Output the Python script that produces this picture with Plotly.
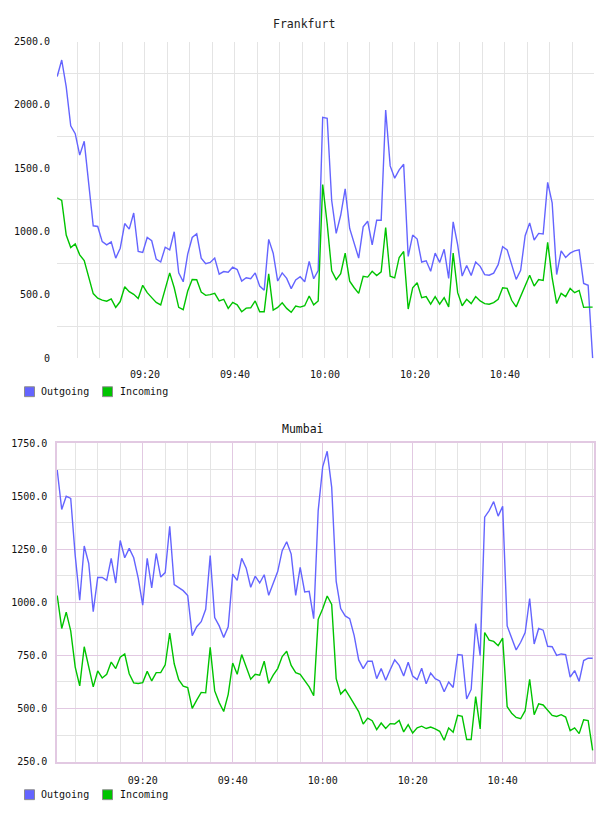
import plotly.graph_objects as go
import pandas as pd

# ---------------- data ----------------
fra_start = "2024-01-01 09:00:30"
mum_start = "2024-01-01 09:01:00"

fra_outgoing = [2224, 2354, 2141, 1834, 1772, 1603, 1712, 1375, 1045, 1040,
                920, 894, 918, 790, 868, 1063, 1019, 1146, 842, 834,
                953, 927, 782, 759, 876, 855, 998, 673, 603, 821,
                953, 982, 790, 746, 756, 790, 663, 684, 679, 718,
                700, 609, 635, 627, 673, 569, 536, 938, 829, 609,
                673, 630, 549, 617, 643, 603, 764, 627, 692, 1902,
                1894, 1245, 985, 1128, 1336, 1024, 907, 790, 1037, 1081,
                894, 1089, 1089, 1959, 1518, 1421, 1486, 1531, 803, 972,
                940, 759, 769, 686, 829, 756, 860, 630, 1076, 894,
                648, 731, 653, 759, 725, 660, 655, 671, 738, 881,
                855, 738, 622, 694, 967, 1068, 933, 985, 980, 1388,
                1227, 660, 847, 795, 829, 847, 855, 590, 575, 0]

fra_incoming = [1266, 1245, 972, 873, 902, 816, 770, 648, 510, 473,
                458, 450, 468, 401, 447, 564, 525, 504, 471, 575,
                517, 478, 440, 421, 551, 673, 556, 401, 383, 530,
                621, 619, 522, 496, 502, 512, 452, 465, 393, 440,
                421, 367, 395, 398, 452, 367, 367, 666, 380, 401,
                437, 393, 362, 411, 403, 414, 491, 421, 452, 1370,
                1060, 690, 620, 667, 829, 608, 556, 512, 647, 640,
                686, 653, 681, 1032, 647, 634, 795, 842, 388, 556,
                595, 478, 486, 426, 486, 426, 478, 405, 829, 517,
                414, 465, 431, 486, 452, 431, 426, 439, 465, 556,
                551, 457, 405, 491, 582, 655, 569, 621, 613, 914,
                634, 431, 512, 486, 551, 517, 535, 401, 403, 403]

mum_outgoing = [1623, 1437, 1499, 1489, 1220, 1010, 1265, 1184, 956, 1117,
                1117, 1103, 1207, 1091, 1291, 1210, 1254, 1210, 1114, 987,
                1207, 1068, 1230, 1119, 1140, 1358, 1083, 1071, 1055, 1032,
                843, 885, 909, 967, 1220, 928, 889, 835, 885, 1133,
                1103, 1207, 1161, 1071, 1123, 1091, 1130, 1033, 1091, 1145,
                1243, 1285, 1227, 1033, 1165, 1049, 1052, 923, 1432, 1638,
                1711, 1541, 1099, 971, 936, 923, 843, 729, 688, 723,
                723, 641, 688, 633, 683, 729, 703, 653, 718, 653,
                636, 690, 617, 667, 641, 630, 579, 625, 599, 754,
                752, 545, 590, 900, 749, 1401, 1432, 1474, 1406, 1452,
                889, 835, 776, 812, 858, 1018, 804, 877, 869, 793,
                791, 750, 757, 754, 648, 679, 628, 726, 737, 737]

mum_incoming = [1032, 877, 954, 866, 695, 607, 791, 703, 602, 677,
                644, 661, 719, 688, 742, 757, 664, 621, 618, 622,
                675, 630, 669, 669, 706, 855, 711, 636, 605, 599,
                501, 540, 576, 574, 788, 583, 528, 486, 567, 714,
                661, 754, 695, 638, 661, 657, 723, 618, 657, 688,
                745, 770, 703, 669, 661, 630, 602, 560, 920, 970,
                1030, 990, 641, 568, 590, 556, 522, 486, 427, 455,
                443, 401, 432, 406, 429, 427, 444, 390, 424, 385,
                409, 417, 406, 413, 404, 393, 351, 409, 389, 468,
                463, 354, 354, 556, 404, 858, 822, 816, 796, 832,
                509, 478, 458, 452, 490, 638, 471, 522, 517, 490,
                468, 463, 471, 460, 396, 409, 382, 447, 443, 303]

series_names = ["Outgoing", "Incoming"]
time_ticks = ["2024-01-01 09:20", "2024-01-01 09:40", "2024-01-01 10:00",
              "2024-01-01 10:20", "2024-01-01 10:40"]
time_ticktext = ["09:20", "09:40", "10:00", "10:20", "10:40"]
fra_yticks = [0, 500, 1000, 1500, 2000, 2500]
fra_yticktext = ["0", "500.0", "1000.0", "1500.0", "2000.0", "2500.0"]
fra_ygrid = [250, 750, 1250, 1750, 2250]
mum_yticks = [250, 500, 750, 1000, 1250, 1500, 1750]
mum_yticktext = ["250.0", "500.0", "750.0", "1000.0", "1250.0", "1500.0", "1750.0"]

# ---------------- figure ----------------
W, H = 608, 816
BLUE = "#6464ff"
GREEN = "#00c400"
MONO = "DejaVu Sans Mono"


def fx(p):
    return p / W


def fy(p):
    return 1 - p / H


t_fra = pd.date_range(fra_start, periods=len(fra_outgoing), freq="min")
t_mum = pd.date_range(mum_start, periods=len(mum_outgoing), freq="min")

fig = go.Figure()

fig.add_trace(go.Scatter(x=t_fra, y=fra_outgoing, mode="lines", name=series_names[0],
                         line=dict(color=BLUE, width=1.4), xaxis="x", yaxis="y", showlegend=False))
fig.add_trace(go.Scatter(x=t_fra, y=fra_incoming, mode="lines", name=series_names[1],
                         line=dict(color=GREEN, width=1.4), xaxis="x", yaxis="y", showlegend=False))
fig.add_trace(go.Scatter(x=t_mum, y=mum_outgoing, mode="lines", name=series_names[0],
                         line=dict(color=BLUE, width=1.4), xaxis="x2", yaxis="y2", showlegend=False))
fig.add_trace(go.Scatter(x=t_mum, y=mum_incoming, mode="lines", name=series_names[1],
                         line=dict(color=GREEN, width=1.4), xaxis="x2", yaxis="y2", showlegend=False))

tickfont = dict(family=MONO, size=10, color="#111111")
xdom = [fx(57), fx(594)]
GREY = "#e4e4e4"
PINK = "#e2c9e2"
MIN5 = 5 * 60 * 1000

# legends drawn below each panel: swatch + label
shapes = []
annotations = []
for cy in (392, 800.5):
    for name, col, sx, tx in zip(series_names, (BLUE, GREEN), (24.5, 102.5), (38.5, 117.5)):
        shapes.append(dict(type="rect", xref="paper", yref="paper",
                           x0=fx(sx), x1=fx(sx + 10), y0=fy(cy + 5), y1=fy(cy - 5),
                           fillcolor=col, line=dict(color="#8c8c8c", width=1)))
        annotations.append(dict(text=name, x=fx(tx), y=fy(cy), xref="paper", yref="paper",
                                showarrow=False, xanchor="left", yanchor="middle",
                                font=dict(family=MONO, size=10, color="#111111")))

annotations += [
    dict(text="Frankfurt", x=fx(304), y=fy(19), xref="paper", yref="paper",
         showarrow=False, xanchor="center", yanchor="middle",
         font=dict(family=MONO, size=11.5, color="#222222")),
    dict(text="Mumbai", x=fx(303), y=fy(430), xref="paper", yref="paper",
         showarrow=False, xanchor="center", yanchor="middle",
         font=dict(family=MONO, size=11.5, color="#111111")),
]

fig.update_layout(
    width=W, height=H,
    margin=dict(l=0, r=0, t=0, b=0),
    paper_bgcolor="white", plot_bgcolor="white",
    showlegend=False,
    xaxis=dict(domain=xdom, anchor="y",
               range=[t_fra[0] - pd.Timedelta(seconds=3), t_fra[-1] + pd.Timedelta(seconds=18)],
               type="date", tickmode="array", tickvals=time_ticks, ticktext=time_ticktext,
               showgrid=True, gridcolor=GREY, gridwidth=1,
               minor=dict(tickmode="linear", dtick=MIN5, tick0="2024-01-01 09:00",
                          showgrid=True, gridcolor=GREY),
               zeroline=False, showline=False, ticks="", tickfont=tickfont, ticklabelstandoff=9),
    yaxis=dict(domain=[fy(358), fy(37)], anchor="x", range=[0, 2500],
               tickmode="array", tickvals=fra_yticks, ticktext=fra_yticktext,
               showgrid=False,
               minor=dict(tickmode="array", tickvals=fra_ygrid, showgrid=True, gridcolor=GREY),
               zeroline=False, showline=False, ticks="", tickfont=tickfont, ticklabelstandoff=6),
    xaxis2=dict(domain=xdom, anchor="y2",
                range=[t_mum[0] - pd.Timedelta(seconds=3), t_mum[-1] + pd.Timedelta(seconds=18)],
                type="date", tickmode="array", tickvals=time_ticks, ticktext=time_ticktext,
                showgrid=True, gridcolor=PINK, gridwidth=1,
                minor=dict(tickmode="linear", dtick=MIN5, tick0="2024-01-01 09:00",
                           showgrid=True, gridcolor=GREY),
                zeroline=False, showline=True, mirror=True, linecolor=PINK, linewidth=1.5,
                ticks="", tickfont=tickfont, ticklabelstandoff=9),
    yaxis2=dict(domain=[fy(767), fy(444)], anchor="x2", range=[250, 1750],
                tickmode="array", tickvals=mum_yticks, ticktext=mum_yticktext,
                showgrid=True, gridcolor=PINK,
                minor=dict(dtick=125, tick0=250, showgrid=True, gridcolor=GREY),
                zeroline=False, showline=True, mirror=True, linecolor=PINK, linewidth=1.5,
                ticks="", tickfont=tickfont, ticklabelstandoff=6),
    shapes=shapes,
    annotations=annotations,
)

fig.write_html("out.html")
